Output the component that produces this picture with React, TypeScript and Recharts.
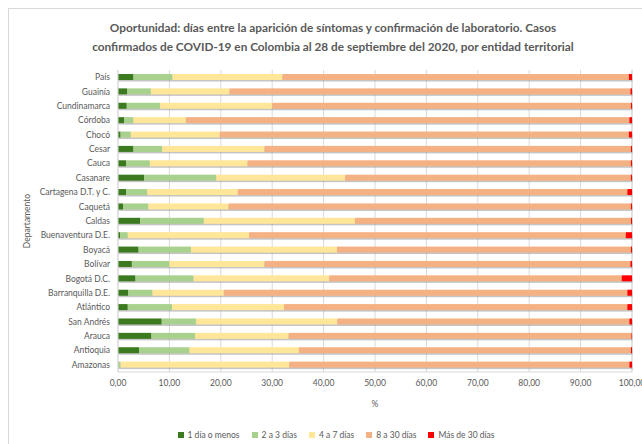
import React from 'react';
import { BarChart, Bar, XAxis, YAxis, CartesianGrid, Legend, Label } from 'recharts';

const departamentos = [
  'País', 'Guainía', 'Cundinamarca', 'Córdoba', 'Chocó', 'Cesar', 'Cauca', 'Casanare',
  'Cartagena D.T. y C.', 'Caquetá', 'Caldas', 'Buenaventura D.E.', 'Boyacá', 'Bolívar',
  'Bogotá D.C.', 'Barranquilla D.E.', 'Atlántico', 'San Andrés', 'Arauca', 'Antioquia', 'Amazonas',
];
const unDia = [3.0, 1.8, 1.7, 1.2, 0.5, 3.0, 1.6, 5.1, 1.6, 1.0, 4.3, 0.4, 4.0, 2.7, 3.4, 2.0, 1.9, 8.5, 6.5, 4.1, 0.0];
const dosATres = [7.6, 4.6, 6.5, 1.8, 2.0, 5.6, 4.6, 14.0, 4.1, 4.9, 12.4, 1.5, 10.2, 7.3, 11.3, 4.7, 8.6, 6.7, 8.5, 9.8, 0.5];
const cuatroASiete = [21.4, 15.3, 21.8, 10.2, 17.3, 19.9, 19.0, 25.1, 17.6, 15.6, 29.4, 23.6, 28.4, 18.5, 26.4, 13.9, 21.8, 27.5, 18.2, 21.3, 32.8];
const ochoATreinta = [67.4, 78.0, 69.8, 86.3, 79.6, 71.3, 74.6, 55.6, 75.8, 78.3, 53.7, 73.3, 57.2, 71.2, 56.9, 78.5, 66.8, 56.8, 66.7, 64.6, 66.2];
const masDeTreinta = [0.6, 0.3, 0.2, 0.5, 0.6, 0.2, 0.2, 0.2, 0.9, 0.2, 0.2, 1.2, 0.2, 0.3, 2.0, 0.9, 0.9, 0.5, 0.1, 0.2, 0.5];
const xTicks = [0, 10, 20, 30, 40, 50, 60, 70, 80, 90, 100];

const data = departamentos.map((name, i) => ({
  name,
  unDia: unDia[i],
  dosATres: dosATres[i],
  cuatroASiete: cuatroASiete[i],
  ochoATreinta: ochoATreinta[i],
  masDeTreinta: masDeTreinta[i],
}));

const font = 'Lato, "Open Sans", sans-serif';
const textColor = '#595959';

const ShadowBar = (props: any) => {
  const { x, y, width, height, fill } = props;
  if (!width || width <= 0) return null;
  return (
    <g>
      <rect x={x + 0.5} y={y + 1.5} width={width} height={height} fill="#8c8c8c" opacity={0.5} />
      <rect x={x} y={y} width={width} height={height} fill={fill} />
    </g>
  );
};

// plain text ticks so long names stay on one line
const CategoryTick = (props: any) => {
  const { x, y, payload } = props;
  return (
    <text x={x} y={y} dy={3} textAnchor="end" fontFamily={font} fontSize={8.5} fill={textColor}>
      {payload.value}
    </text>
  );
};

const renderLegend = (props: any) => {
  const { payload } = props;
  return (
    <div style={{ display: 'flex', justifyContent: 'center', gap: 12, fontFamily: font, fontSize: 8.5, color: textColor }}>
      {payload.map((entry: any) => (
        <span key={entry.value} style={{ display: 'flex', alignItems: 'center' }}>
          <span style={{ width: 6, height: 6, background: entry.color, marginRight: 4, display: 'inline-block' }} />
          {entry.value}
        </span>
      ))}
    </div>
  );
};

const App: React.FC = () => {
  return (
    <div style={{ position: 'fixed', left: 0, top: 0, width: 642, height: 444, overflow: 'hidden', background: '#fff' }}>
      <div style={{ position: 'absolute', left: 8, top: 8, width: 700, height: 500, border: '1px solid #d9d9d9' }} />
      <div
        style={{
          position: 'absolute', left: 0, top: 18, width: 666, textAlign: 'center',
          fontFamily: font, fontWeight: 700, fontSize: 11.8, lineHeight: '19px', color: textColor,
        }}
      >
        Oportunidad: días entre la aparición de síntomas y confirmación de laboratorio. Casos
        <br />
        confirmados de COVID-19 en Colombia al 28 de septiembre del 2020, por entidad territorial
      </div>
      <div style={{ position: 'absolute', left: 0, top: 0 }}>
        <BarChart
          width={672}
          height={444}
          data={data}
          layout="vertical"
          margin={{ top: 70, right: 40, left: 18, bottom: 32 }}
          barSize={6}
        >
          <CartesianGrid horizontal={false} stroke="#d9d9d9" />
          <XAxis
            type="number"
            domain={[0, 100]}
            ticks={xTicks}
            interval={0}
            height={40}
            tickLine={false}
            axisLine={{ stroke: '#d9d9d9' }}
            tickFormatter={(v: number) => v.toFixed(2).replace('.', ',')}
            tick={{ fontFamily: font, fontSize: 8.5, fill: textColor }}
          >
            <Label value="%" position="insideBottom" offset={5} style={{ fontFamily: font, fontSize: 8.5, fill: textColor }} />
          </XAxis>
          <YAxis
            type="category"
            dataKey="name"
            width={100}
            interval={0}
            tickLine={false}
            axisLine={{ stroke: '#d9d9d9' }}
            tick={<CategoryTick />}
          >
            <Label value="Departamento" angle={-90} position="insideLeft" offset={9} style={{ fontFamily: font, fontSize: 8.5, fill: textColor, textAnchor: 'middle' }} />
          </YAxis>
          <Legend
            content={renderLegend}
            wrapperStyle={{ top: 430, left: 0, width: 672, height: 0 }}
          />
          <Bar dataKey="unDia" name="1 día o menos" stackId="a" fill="#3b7a1f" shape={ShadowBar} isAnimationActive={false} />
          <Bar dataKey="dosATres" name="2 a 3 días" stackId="a" fill="#a9d18e" shape={ShadowBar} isAnimationActive={false} />
          <Bar dataKey="cuatroASiete" name="4 a 7 días" stackId="a" fill="#ffe699" shape={ShadowBar} isAnimationActive={false} />
          <Bar dataKey="ochoATreinta" name="8 a 30 días" stackId="a" fill="#f4b183" shape={ShadowBar} isAnimationActive={false} />
          <Bar dataKey="masDeTreinta" name="Más de 30 días" stackId="a" fill="#ff0000" shape={ShadowBar} isAnimationActive={false} />
        </BarChart>
      </div>
    </div>
  );
};

export default App;
